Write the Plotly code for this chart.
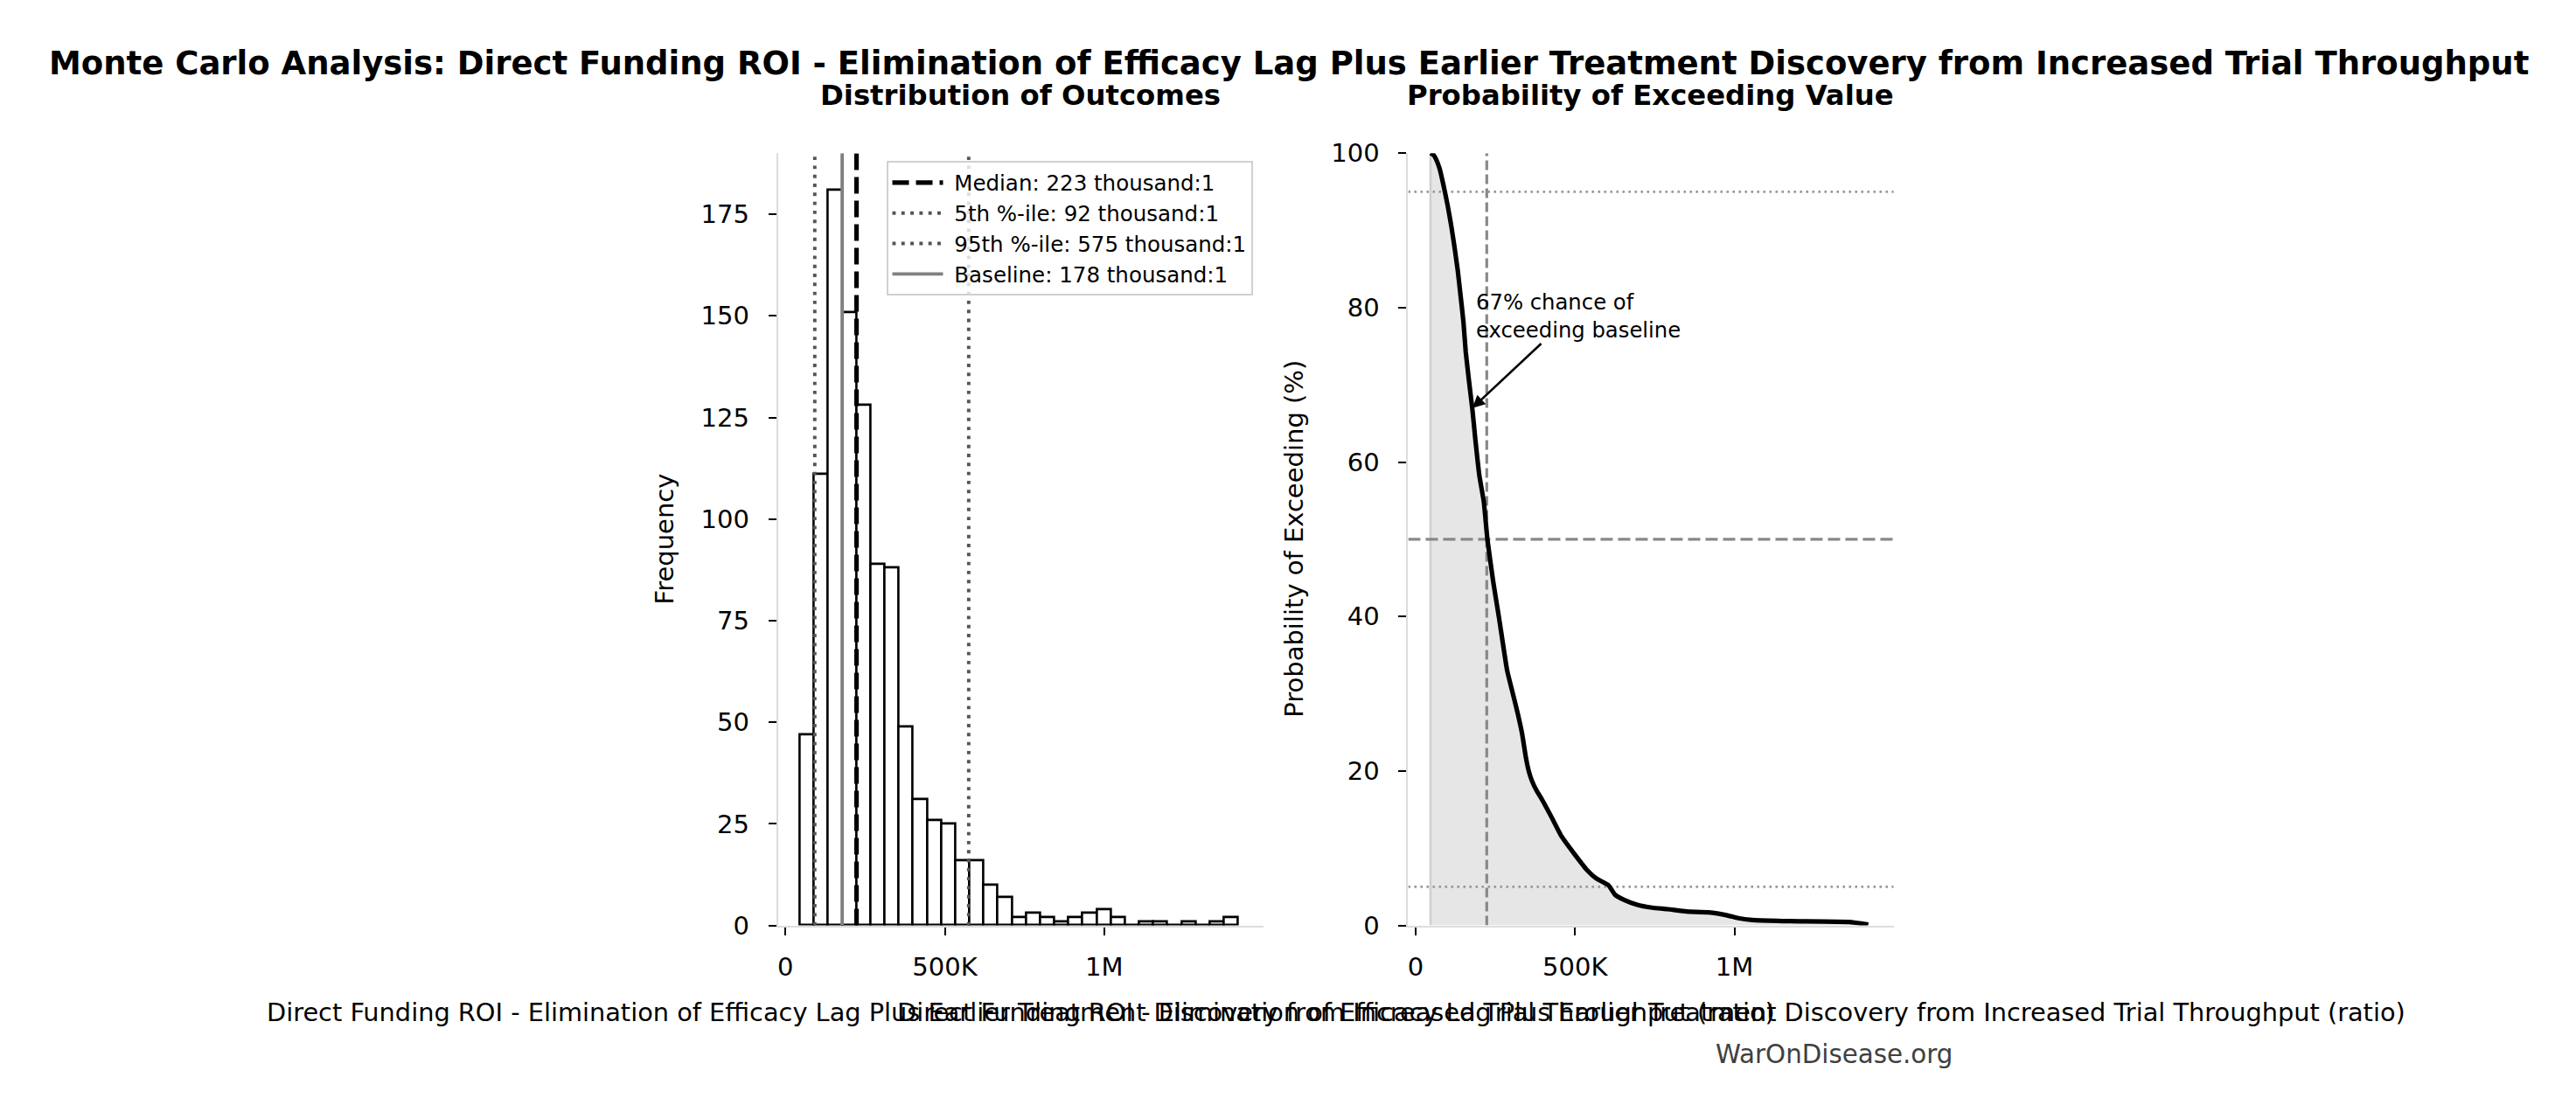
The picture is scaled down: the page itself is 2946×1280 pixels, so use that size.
import numpy as np
import plotly.graph_objects as go

W, H = 2946, 1280
FONT = "DejaVu Sans"

# histogram of the simulated ROI ratios (1000 runs)
hist_counts = [47, 111, 181, 151, 128, 89, 88, 49, 31, 26, 25, 16, 16, 10, 7,
               2, 3, 2, 1, 2, 3, 4, 2, 0, 1, 1, 0, 1, 0, 1, 2]
hist_min = 45.5e3
hist_max = 1420.4e3

# summary statistics shown as reference lines
median_roi = 223e3
p5_roi = 92e3
p95_roi = 575e3
baseline_roi = 178e3
baseline_exceed_pct = 67

# exceedance curve
exceed_x = [46.5e3, 55e3, 63e3, 75e3, 88e3, 100e3, 112e3, 123e3, 132e3, 141e3,
            150e3, 157e3, 167e3, 178e3, 187e3, 200e3, 214e3, 225e3, 243e3, 262e3,
            287e3, 305e3, 321e3, 334e3, 346e3, 356e3, 365e3, 380e3, 395e3, 424e3,
            458e3, 497e3, 537e3, 566e3, 605e3, 625e3, 654e3, 693e3, 742e3, 791e3,
            850e3, 919e3, 978e3, 1012e3, 1056e3, 1173e3, 1360e3, 1420e3]
exceed_pct = [100, 99.8, 99.3, 98.0, 95.7, 93.3, 90.5, 87.5, 84.8, 81.5,
              78.1, 74.3, 70.6, 66.8, 63.0, 58.2, 54.8, 50.0, 44.6, 39.7,
              33.0, 30.0, 27.3, 24.8, 21.7, 19.8, 18.7, 17.4, 16.4, 14.2,
              11.5, 9.3, 7.2, 6.1, 5.2, 4.0, 3.3, 2.7, 2.3, 2.1,
              1.8, 1.7, 1.3, 0.94, 0.7, 0.56, 0.45, 0.1]

x_ticks = [0, 500e3, 1e6]
x_tick_text = ["0", "500K", "1M"]
freq_ticks = [0, 25, 50, 75, 100, 125, 150, 175]
pct_ticks = [0, 20, 40, 60, 80, 100]

title = ("Monte Carlo Analysis: Direct Funding ROI - Elimination of Efficacy Lag "
         "Plus Earlier Treatment Discovery from Increased Trial Throughput")
x_label = ("Direct Funding ROI - Elimination of Efficacy Lag Plus Earlier Treatment "
           "Discovery from Increased Trial Throughput (ratio)")

X_RANGE = [-23.5e3, 1500e3]
FREQ_TOP = 190.05
NBSP = "\u00a0"


def px(x):
    return x / W


def py(y):
    return 1 - y / H


edges = np.linspace(hist_min, hist_max, len(hist_counts) + 1)
centers = (edges[:-1] + edges[1:]) / 2
bin_w = edges[1] - edges[0]

fig = go.Figure()

# left: histogram
fig.add_trace(go.Bar(
    x=centers, y=hist_counts, width=bin_w, xaxis="x", yaxis="y",
    marker=dict(color="white", line=dict(color="black", width=2.6)),
    showlegend=False, hoverinfo="skip",
))

vlines = [
    (median_roi, f"Median: {median_roi/1e3:.0f} thousand:1", "black", 5.2, "19px,8px"),
    (p5_roi, f"5th %-ile: {p5_roi/1e3:.0f} thousand:1", "#555555", 3.9, "3.9px,6.4px"),
    (p95_roi, f"95th %-ile: {p95_roi/1e3:.0f} thousand:1", "#555555", 3.9, "3.9px,6.4px"),
    (baseline_roi, f"Baseline: {baseline_roi/1e3:.0f} thousand:1", "#808080", 3.9, "solid"),
]
for val, name, col, lw, dash in vlines:
    fig.add_trace(go.Scatter(
        x=[val, val], y=[0, FREQ_TOP], mode="lines", name=NBSP + name,
        xaxis="x", yaxis="y", line=dict(color=col, width=lw, dash=dash),
        hoverinfo="skip",
    ))

# right: exceedance curve
fig.add_trace(go.Scatter(
    x=exceed_x, y=exceed_pct, mode="lines", fill="tozeroy",
    fillcolor="rgba(128,128,128,0.2)", line=dict(width=0, shape="spline", smoothing=0.4),
    xaxis="x2", yaxis="y2", showlegend=False, hoverinfo="skip",
))
fig.add_trace(go.Scatter(
    x=[exceed_x[0], exceed_x[0]], y=[0, 100], mode="lines",
    line=dict(color="#d0d0d0", width=2.6), xaxis="x2", yaxis="y2",
    showlegend=False, hoverinfo="skip",
))
for level, dash, lw, col in [(95, "2.6px,4.4px", 2.6, "#999999"),
                             (5, "2.6px,4.4px", 2.6, "#999999"),
                             (50, "14px,6px", 3.2, "#888888")]:
    fig.add_trace(go.Scatter(
        x=X_RANGE, y=[level, level], mode="lines",
        line=dict(color=col, width=lw, dash=dash), xaxis="x2", yaxis="y2",
        showlegend=False, hoverinfo="skip",
    ))
fig.add_trace(go.Scatter(
    x=[median_roi, median_roi], y=[0, 100], mode="lines",
    line=dict(color="#888888", width=3.2, dash="11px,5px"), xaxis="x2", yaxis="y2",
    showlegend=False, hoverinfo="skip",
))
fig.add_trace(go.Scatter(
    x=exceed_x, y=exceed_pct, mode="lines",
    line=dict(color="black", width=5.2, shape="spline", smoothing=0.4),
    xaxis="x2", yaxis="y2", showlegend=False, hoverinfo="skip",
))

axis_style = dict(
    showgrid=False, zeroline=False, showline=True, linecolor="#dddddd", linewidth=2,
    ticks="outside", ticklen=9, tickwidth=2, tickcolor="black",
    tickfont=dict(family=FONT, size=29, color="black"),
)
y_dom = [py(1070), py(162.5)]

fig.update_layout(
    width=W, height=H, autosize=False,
    margin=dict(l=0, r=0, t=0, b=0),
    paper_bgcolor="white", plot_bgcolor="white",
    font=dict(family=FONT, color="black"),
    bargap=0,
    xaxis=dict(domain=[px(889), px(1444.5)], anchor="y", range=X_RANGE,
               tickvals=x_ticks, ticktext=x_tick_text, ticklabelstandoff=12, **axis_style),
    yaxis=dict(domain=y_dom, anchor="x", range=[0, FREQ_TOP],
               tickvals=freq_ticks, ticklabelstandoff=16, **axis_style),
    xaxis2=dict(domain=[px(1610), px(2165.5)], anchor="y2", range=X_RANGE,
                tickvals=x_ticks, ticktext=x_tick_text, ticklabelstandoff=12, **axis_style),
    yaxis2=dict(domain=y_dom, anchor="x2", range=[0, 100],
                tickvals=pct_ticks, ticklabelstandoff=16, **axis_style),
    legend=dict(x=px(1432), y=py(172), xanchor="right", yanchor="top",
                bgcolor="rgba(255,255,255,0.8)", bordercolor="#d0d0d0", borderwidth=2,
                font=dict(family=FONT, size=24.5, color="black"), itemwidth=58,
                tracegroupgap=0),
    showlegend=True,
)

texts = [
    dict(text=f"<b>{title}</b>", x=px(1473), y=py(57.5), size=37),
    dict(text="<b>Distribution of Outcomes</b>", x=px(1166), y=py(95), size=32.3),
    dict(text="<b>Probability of Exceeding Value</b>", x=px(1887), y=py(95), size=32.3),
    dict(text=x_label, x=px(1167), y=py(1172), size=28.8),
    dict(text=x_label, x=px(1888), y=py(1172), size=28.8),
    dict(text="WarOnDisease.org", x=px(2097.5), y=py(1221), size=29.3, color="#404040"),
    dict(text="Frequency", x=px(759), y=py(616), size=29, angle=-90),
    dict(text="Probability of Exceeding (%)", x=px(1479.6), y=py(616), size=29, angle=-90),
]
for t in texts:
    fig.add_annotation(
        text=t["text"], x=t["x"], y=t["y"], xref="paper", yref="paper",
        xanchor="center", yanchor="middle", showarrow=False,
        textangle=t.get("angle", 0),
        font=dict(family=FONT, size=t["size"], color=t.get("color", "black")),
    )

# callout on the exceedance panel
fig.add_annotation(
    text="67% chance of<br>exceeding baseline", x=px(1686), y=py(321),
    xref="paper", yref="paper", xanchor="left", yanchor="top", align="left",
    showarrow=False, font=dict(family=FONT, size=24.3, color="black"),
)
fig.add_annotation(
    text="", x=baseline_roi, y=baseline_exceed_pct, xref="x2", yref="y2",
    ax=398e3, ay=75.5, axref="x2", ayref="y2", showarrow=True,
    arrowhead=2, arrowsize=1.1, arrowwidth=2.6, arrowcolor="black",
)

fig.write_html("out.html", config={"displayModeBar": False},
               post_script="document.body.style.margin='0';")
